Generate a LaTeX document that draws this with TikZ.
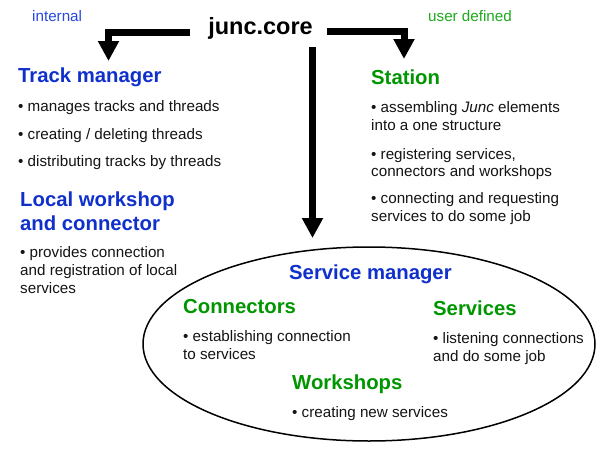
\documentclass[tikz,border=0pt]{standalone}
\usepackage{fontspec}
\setmainfont{Liberation Sans}
\usetikzlibrary{arrows.meta}
\definecolor{jblue}{RGB}{16,48,204}
\definecolor{lblue}{RGB}{40,72,224}
\definecolor{jgreen}{RGB}{0,150,0}
\definecolor{lgreen}{RGB}{30,170,30}
\definecolor{btext}{RGB}{20,20,20}
\tikzset{
  body/.style={anchor=base west, inner sep=0pt, text=btext, font=\fontsize{15.2}{18}\selectfont},
  headb/.style={anchor=base west, inner sep=0pt, font=\bfseries\fontsize{20.3}{24}\selectfont, text=jblue},
  headg/.style={anchor=base west, inner sep=0pt, font=\bfseries\fontsize{20.3}{24}\selectfont, text=jgreen},
  bigarrow/.style={line width=7pt, line join=miter, -{Triangle[width=20pt,length=20pt]}},
}
\begin{document}
\begin{tikzpicture}[x=1pt,y=-1pt]
\useasboundingbox[fill=white] (0,0) rectangle (600,450);

% top
\node[body, text=lblue] (int) at (32,21) {internal};
\node[body, text=lgreen] (ud) at (428,21) {user defined};
\node[anchor=base, inner sep=0pt, font=\bfseries\fontsize{23.5}{28}\selectfont] (core) at (260.5,34) {junc.core};

% connector coordinates
\coordinate (l0) at (190,32.5);
\coordinate (lt) at (108.5,61);
\coordinate (r0) at (327,31.5);
\coordinate (rt) at (404,59);
\coordinate (c0) at (312.5,47);

% left column
\node[headb] (tm) at (18,82) {Track manager};
\node[body] (tm1) at (18,111.5) {• manages tracks and threads};
\node[body] (tm2) at (18,139) {• creating / deleting threads};
\node[body] (tm3) at (18,166.5) {• distributing tracks by threads};
\node[headb] (lw1) at (20,206) {Local workshop};
\node[headb] (lw2) at (20,230.5) {and connector};
\node[body] (lwb1) at (20,257) {• provides connection};
\node[body] (lwb2) at (20,275) {and registration of local};
\node[body] (lwb3) at (20,293) {services};

% right column
\node[headg] (st) at (371,84) {Station};
\node[body] (st1) at (371,112) {• assembling \textit{Junc} elements};
\node[body] (st2) at (371,130) {into a one structure};
\node[body] (st3) at (371,159) {• registering services,};
\node[body] (st4) at (371,176.5) {connectors and workshops};
\node[body] (st5) at (371,203) {• connecting and requesting};
\node[body] (st6) at (371,221) {services to do some job};

% service manager ellipse
\draw[line width=1.5pt] (369,344) ellipse [x radius=226, y radius=97];
\coordinate (smtop) at (369,247);
\node[headb] (smh) at (289,279) {Service manager};
\node[headg] (con) at (183,313) {Connectors};
\node[body] (con1) at (183,341) {• establishing connection};
\node[body] (con2) at (183,359) {to services};
\node[headg] (srv) at (433,315) {Services};
\node[body] (srv1) at (433,343) {• listening connections};
\node[body] (srv2) at (433,361.5) {and do some job};
\node[headg] (ws) at (292,389) {Workshops};
\node[body] (ws1) at (292,417) {• creating new services};

% arrows
\draw[bigarrow] (l0) -| (lt);
\draw[bigarrow] (r0) -| (rt);
\draw[bigarrow, shorten >=9pt] (c0) -- (c0 |- smtop);
\end{tikzpicture}
\end{document}
